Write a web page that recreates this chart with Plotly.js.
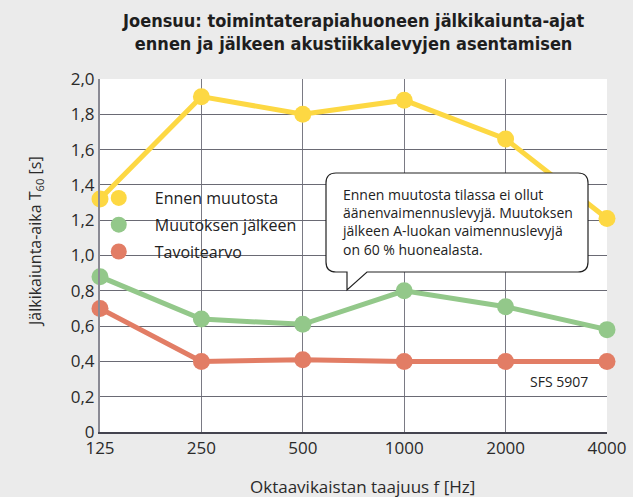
<!DOCTYPE html>
<html><head><meta charset="utf-8">
<script src="https://cdn.plot.ly/plotly-3.0.1.min.js"></script>
<style>html,body{margin:0;padding:0;background:#ebebeb}</style>
</head><body><div id="chart" style="width:633px;height:497px"></div>
<script>
const categories = ['125','250','500','1000','2000','4000'];
const ennen = [1.32, 1.90, 1.80, 1.88, 1.66, 1.21];
const jalkeen = [0.88, 0.64, 0.61, 0.80, 0.71, 0.58];
const tavoite = [0.70, 0.40, 0.41, 0.40, 0.40, 0.40];
const seriesNames = ['Ennen muutosta', 'Muutoksen jälkeen', 'Tavoitearvo'];
const yTickVals = [0, 0.2, 0.4, 0.6, 0.8, 1.0, 1.2, 1.4, 1.6, 1.8, 2.0];
const yTickText = ['0', '0,2', '0,4', '0,6', '0,8', '1,0', '1,2', '1,4', '1,6', '1,8', '2,0'];
const colors = ['#fdd843', '#93c88a', '#e27d65'];
const allSeries = [ennen, jalkeen, tavoite];

const traces = [];
[2,1,0].forEach(i => {
  traces.push({
    x: categories, y: allSeries[i], type: 'scatter', mode: 'lines+markers',
    line: {color: colors[i], width: 5}, marker: {color: colors[i], size: 17},
    showlegend: false, hoverinfo: 'none', cliponaxis: false
  });
});
[0,1,2].forEach(i => {
  traces.push({
    x: [null], y: [null], type: 'scatter', mode: 'markers', name: seriesNames[i],
    marker: {color: colors[i], size: 16}, legendgroup: 'g'+i, showlegend: true
  });
});

const PL = 100, PR = 607, PT = 79, PB = 432;
const px = x => (x - PL) / (PR - PL), py = y => (PB - y) / (PB - PT);
const font = 'Open Sans, DejaVu Sans, sans-serif';
const layout = {
  width: 633, height: 497,
  paper_bgcolor: '#ebebeb', plot_bgcolor: '#ffffff',
  margin: {l: PL, r: 633 - PR, t: PT, b: 497 - PB},
  font: {family: font, color: '#2a2a2a'},
  xaxis: {
    type: 'category', range: [0, 5], showgrid: true, gridcolor: '#7a7a84', gridwidth: 1,
    showline: true, linecolor: '#44444f', linewidth: 1.5, zeroline: false,
    ticks: '', tickfont: {size: 17, color: '#2a2a2a'}
  },
  yaxis: {
    range: [0, 2.0], tickvals: yTickVals, ticktext: yTickText,
    showgrid: true, gridcolor: '#6a6a74', gridwidth: 1,
    showline: true, linecolor: '#8a8a94', linewidth: 2, zeroline: false,
    ticks: '', ticklen: 0, tickfont: {size: 17, color: '#2a2a2a'}
  },
  legend: {
    x: -0.034, y: 0.711, xanchor: 'left', yanchor: 'top', bgcolor: 'rgba(0,0,0,0)',
    font: {size: 16, color: '#222'}, tracegroupgap: 3, itemclick: false, itemwidth: 62
  },
  shapes: [{
    type: 'path', xref: 'paper', yref: 'paper', layer: 'above',
    fillcolor: '#ffffff', line: {color: '#222', width: 1.2},
    path: (function(){
      const L=326, T=173, R=588, B=272, r=10;
      const pts = [
        'M', px(L+r), py(T), 'L', px(R-r), py(T),
        'Q', px(R), py(T), px(R), py(T+r),
        'L', px(R), py(B-r), 'Q', px(R), py(B), px(R-r), py(B),
        'L', px(367), py(B), 'L', px(347), py(290), 'L', px(347), py(B),
        'L', px(L+r), py(B), 'Q', px(L), py(B), px(L), py(B-r),
        'L', px(L), py(T+r), 'Q', px(L), py(T), px(L+r), py(T), 'Z'
      ];
      return pts.join(' ');
    })()
  }],
  annotations: [{
    xref: 'paper', yref: 'paper', x: px(353), y: py(8), xanchor: 'center', yanchor: 'top',
    showarrow: false, align: 'center',
    text: '<b>Joensuu: toimintaterapiahuoneen jälkikaiunta-ajat<br>ennen ja jälkeen akustiikkalevyjen asentamisen</b>',
    font: {family: 'DejaVu Sans Condensed, DejaVu Sans', size: 18, color: '#1e1e1e'}
  }, {
    xref: 'paper', yref: 'paper', x: px(35), y: py(242), xanchor: 'center', yanchor: 'middle',
    showarrow: false, textangle: -90,
    text: 'Jälkikaiunta-aika T<sub>60</sub> [s]', font: {size: 16, color: '#2a2a2a'}
  }, {
    xref: 'paper', yref: 'paper', x: px(362), y: py(486), xanchor: 'center', yanchor: 'middle',
    showarrow: false, text: 'Oktaavikaistan taajuus f [Hz]', font: {size: 17, color: '#2a2a2a'}
  }, {
    xref: 'paper', yref: 'paper', x: px(340), y: py(183), xanchor: 'left', yanchor: 'top',
    align: 'left', showarrow: false,
    text: 'Ennen muutosta tilassa ei ollut<br>äänenvaimennuslevyjä. Muutoksen<br>jälkeen A-luokan vaimennuslevyjä<br>on 60 % huonealasta.',
    font: {size: 14, color: '#222'}
  }, {
    xref: 'paper', yref: 'paper', x: px(590), y: py(381), xanchor: 'right', yanchor: 'middle',
    showarrow: false, text: 'SFS 5907', font: {size: 14, color: '#222'}
  }]
};
Plotly.newPlot('chart', traces, layout, {staticPlot: true, displayModeBar: false});
</script></body></html>
